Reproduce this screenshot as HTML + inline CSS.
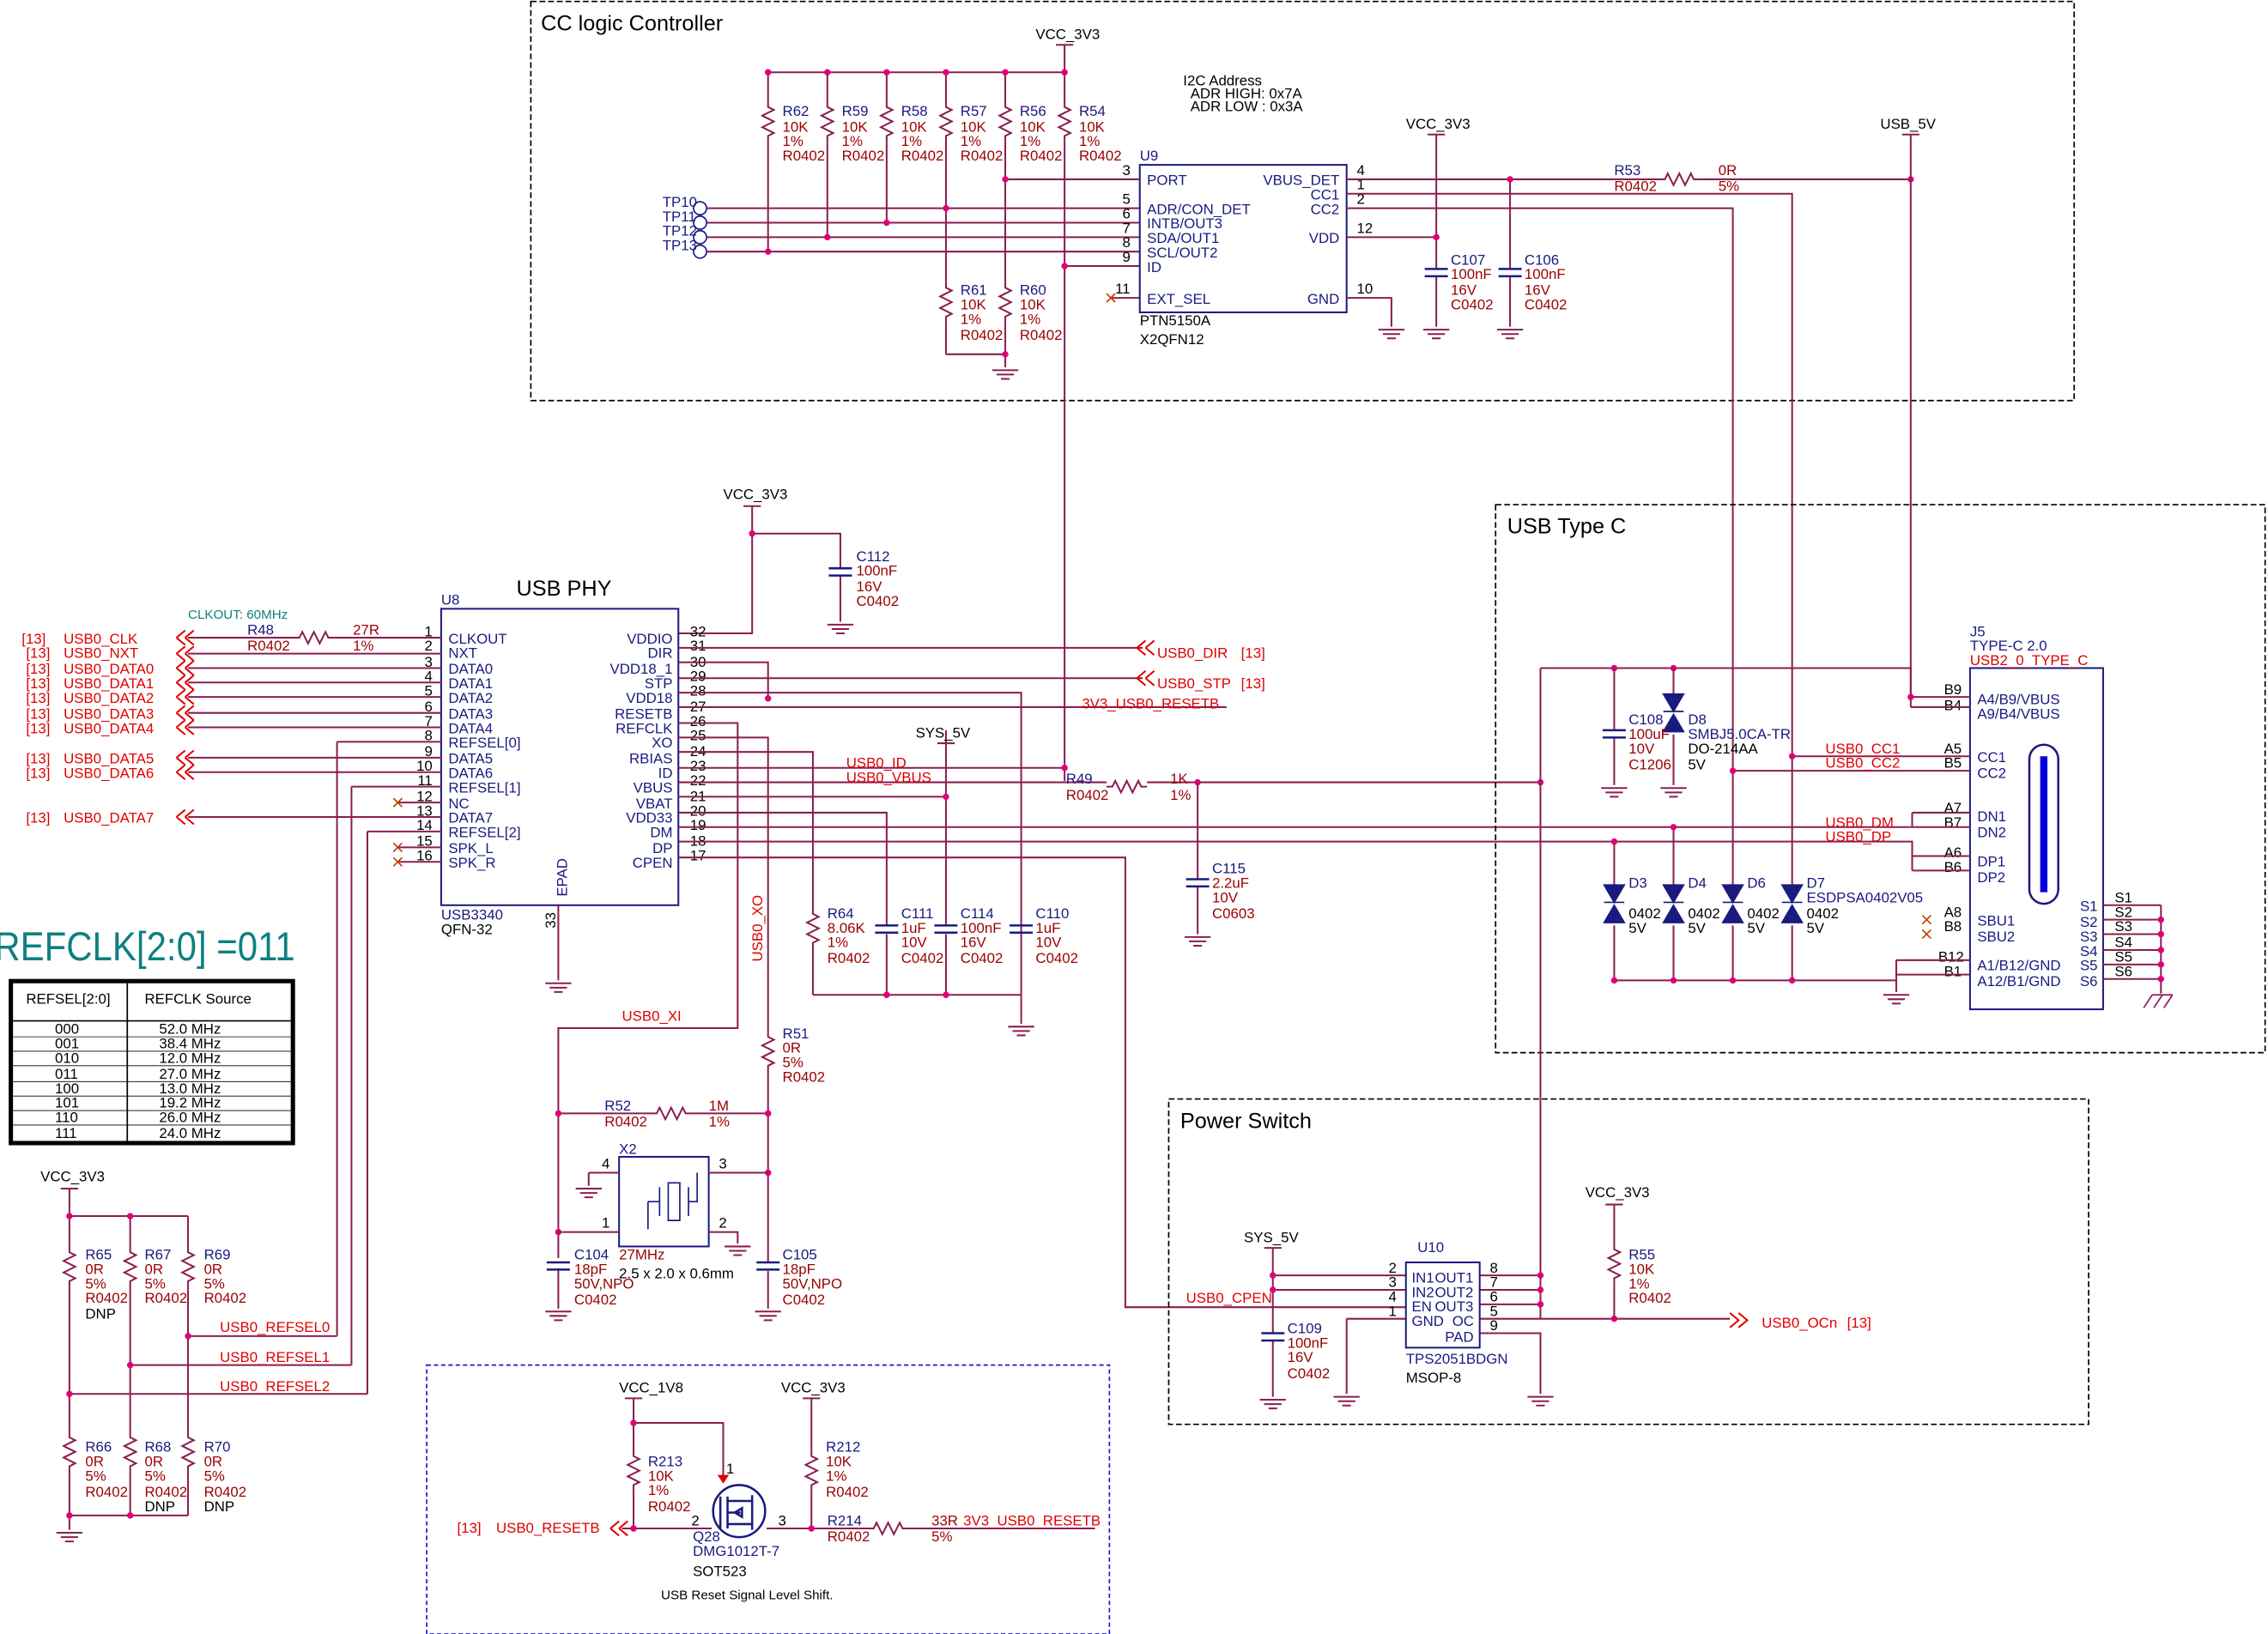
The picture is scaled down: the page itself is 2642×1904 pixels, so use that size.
<!DOCTYPE html>
<html><head><meta charset="utf-8"><style>
html,body{margin:0;padding:0;background:#fff;}
svg{display:block;}
text{font-family:"Liberation Sans",sans-serif;font-size:10px;}
.b{fill:#1a1a80}.r{fill:#e00000}.d{fill:#9b0000}.k{fill:#000}.t{fill:#0d8080}
.w{stroke:#8a1e50;stroke-width:1.2;fill:none}
.bx{stroke:#1a1a80;stroke-width:1.2;fill:none}
</style></head><body>
<svg width="2642" height="1904" viewBox="0 0 1568 1130" xmlns="http://www.w3.org/2000/svg">
<defs>
<path id="rv" d="M0,0v4l4,2l-8,4l8,4l-8,4l8,4l-4,2v4" class="w"/>
<path id="rh" d="M0,0h4l2,-4l4,8l4,-8l4,8l4,-8l2,4h4" class="w"/>
<path id="gnd" d="M-9,0h18M-6,3h12M-3,6h6" class="w"/>
<path id="cap" d="M-8,0h16M-8,5h16" stroke="#1a1a80" stroke-width="1.5"/>
<circle id="dt" r="2.2" fill="#e0007a"/>
<path id="chl" d="M0,0l-6,-5M0,0l-6,5M6,0l-6,-5M6,0l-6,5" stroke="#e00000" stroke-width="1.2" transform="scale(-1,1)"/>
<path id="chr" d="M0,-5l6,5l-6,5M6,-5l6,5l-6,5" stroke="#e00000" stroke-width="1.2" fill="none"/>
<path id="xm" d="M-3,-3l6,6M3,-3l-6,6" stroke="#c04000" stroke-width="1"/>
<path id="pw" d="M-6,0h12" stroke="#8a1e50" stroke-width="1.2"/>
<path id="tvs" d="M-7,-14h14l-7,12zM-7,12h14l-7,-12zM-7,-2h14" fill="#1a1a80" stroke="#1a1a80"/>
</defs>

<!-- ===== CC logic ===== -->
<rect x="367" y="1" width="1067" height="276" fill="none" stroke="#000" stroke-dasharray="4,2"/>
<text x="374" y="21" class="k" style="font-size:15px">CC logic Controller</text>
<text x="716" y="27" class="k">VCC_3V3</text>
<use href="#pw" x="736" y="31"/>
<path class="w" d="M736,31V50M531,50H736"/>
<g>
<path class="w" d="M531,50V70M531,98V174M572,50V70M572,98V164M613,50V70M613,98V154M654,50V70M654,98V195M654,223V245M695,50V70M695,98V195M695,223V245M736,50V70M736,98V540M654,245H695M695,245V254"/>
<use href="#rv" x="531" y="70"/><use href="#rv" x="572" y="70"/><use href="#rv" x="613" y="70"/><use href="#rv" x="654" y="70"/><use href="#rv" x="695" y="70"/><use href="#rv" x="736" y="70"/>
<use href="#rv" x="654" y="195"/><use href="#rv" x="695" y="195"/>
<use href="#gnd" x="695" y="256"/>
</g>
<g>
<text x="541" y="80" class="b">R62</text><text x="541" y="91" class="d">10K</text><text x="541" y="101" class="d">1%</text><text x="541" y="111" class="d">R0402</text>
<text x="582" y="80" class="b">R59</text><text x="582" y="91" class="d">10K</text><text x="582" y="101" class="d">1%</text><text x="582" y="111" class="d">R0402</text>
<text x="623" y="80" class="b">R58</text><text x="623" y="91" class="d">10K</text><text x="623" y="101" class="d">1%</text><text x="623" y="111" class="d">R0402</text>
<text x="664" y="80" class="b">R57</text><text x="664" y="91" class="d">10K</text><text x="664" y="101" class="d">1%</text><text x="664" y="111" class="d">R0402</text>
<text x="705" y="80" class="b">R56</text><text x="705" y="91" class="d">10K</text><text x="705" y="101" class="d">1%</text><text x="705" y="111" class="d">R0402</text>
<text x="746" y="80" class="b">R54</text><text x="746" y="91" class="d">10K</text><text x="746" y="101" class="d">1%</text><text x="746" y="111" class="d">R0402</text>
<text x="664" y="204" class="b">R61</text><text x="664" y="214" class="d">10K</text><text x="664" y="224" class="d">1%</text><text x="664" y="235" class="d">R0402</text>
<text x="705" y="204" class="b">R60</text><text x="705" y="214" class="d">10K</text><text x="705" y="224" class="d">1%</text><text x="705" y="235" class="d">R0402</text>
</g>
<!-- TPs -->
<g fill="none" stroke="#1a1a80">
<circle cx="484" cy="144" r="4.5"/><circle cx="484" cy="154" r="4.5"/><circle cx="484" cy="164" r="4.5"/><circle cx="484" cy="174" r="4.5"/>
</g>
<text x="458" y="143" class="b">TP10</text><text x="458" y="153" class="b">TP11</text><text x="458" y="163" class="b">TP12</text><text x="458" y="173" class="b">TP13</text>
<path class="w" d="M489,144H788M489,154H788M489,164H788M489,174H788M695,124H788M736,184H788M768,206H788"/>
<use href="#xm" x="768" y="206"/>
<use href="#dt" x="654" y="144"/><use href="#dt" x="613" y="154"/><use href="#dt" x="572" y="164"/><use href="#dt" x="531" y="174"/><use href="#dt" x="695" y="124"/><use href="#dt" x="736" y="184"/>
<use href="#dt" x="531" y="50"/><use href="#dt" x="572" y="50"/><use href="#dt" x="613" y="50"/><use href="#dt" x="654" y="50"/><use href="#dt" x="695" y="50"/><use href="#dt" x="736" y="50"/><use href="#dt" x="695" y="245"/>
<g class="k"><text x="776" y="121">3</text><text x="776" y="141">5</text><text x="776" y="151">6</text><text x="776" y="161">7</text><text x="776" y="171">8</text><text x="776" y="181">9</text><text x="771" y="203">11</text></g>
<rect x="788" y="114" width="143" height="102" class="bx"/>
<text x="788" y="111" class="b">U9</text>
<g class="b"><text x="793" y="128">PORT</text><text x="793" y="148">ADR/CON_DET</text><text x="793" y="158">INTB/OUT3</text><text x="793" y="168">SDA/OUT1</text><text x="793" y="178">SCL/OUT2</text><text x="793" y="188">ID</text><text x="793" y="210">EXT_SEL</text>
<text x="926" y="128" text-anchor="end">VBUS_DET</text><text x="926" y="138" text-anchor="end">CC1</text><text x="926" y="148" text-anchor="end">CC2</text><text x="926" y="168" text-anchor="end">VDD</text><text x="926" y="210" text-anchor="end">GND</text></g>
<text x="788" y="225" class="k">PTN5150A</text><text x="788" y="238" class="k">X2QFN12</text>
<g class="k" style="font-size:9px"><text x="818" y="59">I2C Address</text><text x="823" y="68">ADR HIGH: 0x7A</text><text x="823" y="77">ADR LOW : 0x3A</text></g>
<g class="k"><text x="938" y="121">4</text><text x="938" y="131">1</text><text x="938" y="141">2</text><text x="938" y="161">12</text><text x="938" y="203">10</text></g>
<path class="w" d="M931,124H1147M1175,124H1321M931,134H1239V612M931,144H1198V612M931,164H993M931,206H962V226"/>
<use href="#rh" x="1147" y="124"/>
<use href="#gnd" x="962" y="228"/>
<text x="1116" y="121" class="b">R53</text><text x="1116" y="132" class="d">R0402</text><text x="1188" y="121" class="d">0R</text><text x="1188" y="132" class="d">5%</text>
<text x="972" y="89" class="k">VCC_3V3</text><use href="#pw" x="993" y="93"/>
<path class="w" d="M993,93V186M993,191V226M1044,124V186M1044,191V226"/>
<use href="#cap" x="993" y="186"/><use href="#cap" x="1044" y="186"/>
<use href="#gnd" x="993" y="228"/><use href="#gnd" x="1044" y="228"/>
<use href="#dt" x="993" y="164"/><use href="#dt" x="1044" y="124"/><use href="#dt" x="1321" y="124"/>
<text x="1003" y="183" class="b">C107</text><text x="1003" y="193" class="d">100nF</text><text x="1003" y="204" class="d">16V</text><text x="1003" y="214" class="d">C0402</text>
<text x="1054" y="183" class="b">C106</text><text x="1054" y="193" class="d">100nF</text><text x="1054" y="204" class="d">16V</text><text x="1054" y="214" class="d">C0402</text>
<text x="1300" y="89" class="k">USB_5V</text><use href="#pw" x="1321" y="93"/>
<path class="w" d="M1321,93V489"/>

<!-- ===== USB PHY ===== -->
<text x="500" y="345" class="k">VCC_3V3</text><use href="#pw" x="520" y="350"/>
<path class="w" d="M520,350V438H469M520,369H581V393M581,398V430"/>
<use href="#dt" x="520" y="369"/>
<use href="#cap" x="581" y="393"/><use href="#gnd" x="581" y="432"/>
<text x="592" y="388" class="b">C112</text><text x="592" y="398" class="d">100nF</text><text x="592" y="409" class="d">16V</text><text x="592" y="419" class="d">C0402</text>
<rect x="305" y="421" width="164" height="205" class="bx"/>
<text x="305" y="418" class="b">U8</text>
<text x="357" y="412" class="k" style="font-size:15px">USB PHY</text>
<text x="305" y="636" class="b">USB3340</text><text x="305" y="646" class="k">QFN-32</text>
<text x="0" y="0" class="b" transform="translate(392,620) rotate(-90)">EPAD</text>
<text x="0" y="0" class="k" transform="translate(384,642) rotate(-90)">33</text>
<path class="w" d="M386,626V678"/><use href="#gnd" x="386" y="680"/>
<g class="b">
<text x="310" y="445">CLKOUT</text><text x="310" y="455">NXT</text><text x="310" y="466">DATA0</text><text x="310" y="476">DATA1</text><text x="310" y="486">DATA2</text><text x="310" y="497">DATA3</text><text x="310" y="507">DATA4</text><text x="310" y="517">REFSEL[0]</text><text x="310" y="528">DATA5</text><text x="310" y="538">DATA6</text><text x="310" y="548">REFSEL[1]</text><text x="310" y="559">NC</text><text x="310" y="569">DATA7</text><text x="310" y="579">REFSEL[2]</text><text x="310" y="590">SPK_L</text><text x="310" y="600">SPK_R</text>
</g>
<g class="b" text-anchor="end">
<text x="465" y="445">VDDIO</text><text x="465" y="455">DIR</text><text x="465" y="466">VDD18_1</text><text x="465" y="476">STP</text><text x="465" y="486">VDD18</text><text x="465" y="497">RESETB</text><text x="465" y="507">REFCLK</text><text x="465" y="517">XO</text><text x="465" y="528">RBIAS</text><text x="465" y="538">ID</text><text x="465" y="548">VBUS</text><text x="465" y="559">VBAT</text><text x="465" y="569">VDD33</text><text x="465" y="579">DM</text><text x="465" y="590">DP</text><text x="465" y="600">CPEN</text>
</g>
<g class="k" text-anchor="end">
<text x="299" y="440">1</text><text x="299" y="450">2</text><text x="299" y="461">3</text><text x="299" y="471">4</text><text x="299" y="481">5</text><text x="299" y="492">6</text><text x="299" y="502">7</text><text x="299" y="512">8</text><text x="299" y="523">9</text><text x="299" y="533">10</text><text x="299" y="543">11</text><text x="299" y="554">12</text><text x="299" y="564">13</text><text x="299" y="574">14</text><text x="299" y="585">15</text><text x="299" y="595">16</text>
</g>
<g class="k">
<text x="477" y="440">32</text><text x="477" y="450">31</text><text x="477" y="461">30</text><text x="477" y="471">29</text><text x="477" y="481">28</text><text x="477" y="492">27</text><text x="477" y="502">26</text><text x="477" y="512">25</text><text x="477" y="523">24</text><text x="477" y="533">23</text><text x="477" y="543">22</text><text x="477" y="554">21</text><text x="477" y="564">20</text><text x="477" y="574">19</text><text x="477" y="585">18</text><text x="477" y="595">17</text>
</g>
<!-- left wires -->
<path class="w" d="M130,441H203M231,441H305M130,452H305M130,462H305M130,472H305M130,482H305M130,493H305M130,503H305M233,513H305M130,524H305M130,534H305M243,544H305M275,555H305M130,565H305M254,575H305M275,586H305M275,596H305
M233,513V924M243,544V944M254,575V964"/>
<use href="#rh" x="203" y="441"/>
<use href="#xm" x="275" y="555"/><use href="#xm" x="275" y="586"/><use href="#xm" x="275" y="596"/>
<text x="130" y="428" class="t" style="font-size:9px">CLKOUT: 60MHz</text>
<text x="171" y="439" class="b">R48</text><text x="171" y="450" class="d">R0402</text><text x="244" y="439" class="d">27R</text><text x="244" y="450" class="d">1%</text>
<g>
<use href="#chl" x="128" y="441"/><use href="#chl" x="128" y="452"/><use href="#chl" x="128" y="462"/><use href="#chl" x="128" y="472"/><use href="#chl" x="128" y="482"/><use href="#chl" x="128" y="493"/><use href="#chl" x="128" y="503"/><use href="#chl" x="128" y="524"/><use href="#chl" x="128" y="534"/><use href="#chl" x="128" y="565"/>
</g>
<g class="r">
<text x="15" y="445">[13]</text><text x="44" y="445">USB0_CLK</text>
<text x="18" y="455">[13]</text><text x="44" y="455">USB0_NXT</text>
<text x="18" y="466">[13]</text><text x="44" y="466">USB0_DATA0</text>
<text x="18" y="476">[13]</text><text x="44" y="476">USB0_DATA1</text>
<text x="18" y="486">[13]</text><text x="44" y="486">USB0_DATA2</text>
<text x="18" y="497">[13]</text><text x="44" y="497">USB0_DATA3</text>
<text x="18" y="507">[13]</text><text x="44" y="507">USB0_DATA4</text>
<text x="18" y="528">[13]</text><text x="44" y="528">USB0_DATA5</text>
<text x="18" y="538">[13]</text><text x="44" y="538">USB0_DATA6</text>
<text x="18" y="569">[13]</text><text x="44" y="569">USB0_DATA7</text>
</g>
<!-- right wires -->
<path class="w" d="M469,448H790M469,458H531V483M469,469H790M469,479H706V688M469,489H848M469,500H510V711H386V870M386,877V905M469,510H531V713M531,741V873M531,879V905M469,520H562V628M562,656V688M469,531H736M469,541H765M793,541H1065M469,551H654M469,562H613V640M613,646V688M469,572H1320M469,582H1320M469,593H778V904H972M562,688H706M654,505V640M654,646V688M706,646V688M706,479V640"/>
<use href="#dt" x="531" y="483"/><use href="#dt" x="654" y="551"/><use href="#dt" x="654" y="688"/><use href="#dt" x="613" y="688"/><use href="#dt" x="736" y="531"/><use href="#dt" x="828" y="541"/><use href="#dt" x="1065" y="541"/>
<use href="#chl" x="792" y="448"/><use href="#chl" x="792" y="469"/>
<text x="800" y="455" class="r">USB0_DIR</text><text x="858" y="455" class="r">[13]</text>
<text x="800" y="476" class="r">USB0_STP</text><text x="858" y="476" class="r">[13]</text>
<text x="748" y="490" class="r">3V3_USB0_RESETB</text>
<text x="585" y="531" class="r">USB0_ID</text><text x="585" y="541" class="r">USB0_VBUS</text>
<use href="#rh" x="765" y="544"/>
<text x="737" y="542" class="b">R49</text><text x="737" y="553" class="d">R0402</text><text x="809" y="542" class="d">1K</text><text x="809" y="553" class="d">1%</text>
<path class="w" d="M828,541V608M828,613V646"/><use href="#cap" x="828" y="608"/><use href="#gnd" x="828" y="648"/>
<text x="838" y="604" class="b">C115</text><text x="838" y="614" class="d">2.2uF</text><text x="838" y="624" class="d">10V</text><text x="838" y="635" class="d">C0603</text>
<text x="633" y="510" class="k">SYS_5V</text><use href="#pw" x="654" y="514"/>
<use href="#rv" x="562" y="628"/>
<text x="572" y="635" class="b">R64</text><text x="572" y="645" class="d">8.06K</text><text x="572" y="655" class="d">1%</text><text x="572" y="666" class="d">R0402</text>
<use href="#cap" x="613" y="640"/><use href="#cap" x="654" y="640"/><use href="#cap" x="706" y="640"/>
<text x="623" y="635" class="b">C111</text><text x="623" y="645" class="d">1uF</text><text x="623" y="655" class="d">10V</text><text x="623" y="666" class="d">C0402</text>
<text x="664" y="635" class="b">C114</text><text x="664" y="645" class="d">100nF</text><text x="664" y="655" class="d">16V</text><text x="664" y="666" class="d">C0402</text>
<text x="716" y="635" class="b">C110</text><text x="716" y="645" class="d">1uF</text><text x="716" y="655" class="d">10V</text><text x="716" y="666" class="d">C0402</text>
<use href="#gnd" x="706" y="710"/><path class="w" d="M706,688V708"/>
<text x="0" y="0" class="r" transform="translate(527,665) rotate(-90)">USB0_XO</text>
<text x="430" y="706" class="r">USB0_XI</text>
<use href="#rv" x="531" y="713"/>
<text x="541" y="718" class="b">R51</text><text x="541" y="728" class="d">0R</text><text x="541" y="738" class="d">5%</text><text x="541" y="748" class="d">R0402</text>
<path class="w" d="M386,770H450M478,770H531"/><use href="#rh" x="450" y="770"/>
<use href="#dt" x="386" y="770"/><use href="#dt" x="531" y="770"/><use href="#dt" x="386" y="852"/><use href="#dt" x="531" y="811"/>
<text x="418" y="768" class="b">R52</text><text x="418" y="779" class="d">R0402</text><text x="490" y="768" class="d">1M</text><text x="490" y="779" class="d">1%</text>
<rect x="428" y="800" width="62" height="62" class="bx"/>
<text x="428" y="798" class="b">X2</text>
<path d="M448,831H456M456,821V841M462,818H470V844H462ZM476,821V841M476,831H482V811M448,831V850" stroke="#1a1a80" fill="none"/>
<path class="w" d="M407,811H428M407,811V820M490,811H531M386,852H428M490,852H510V860"/>
<use href="#gnd" x="407" y="822"/><use href="#gnd" x="510" y="862"/>
<text x="416" y="808" class="k">4</text><text x="497" y="808" class="k">3</text><text x="416" y="849" class="k">1</text><text x="497" y="849" class="k">2</text>
<text x="428" y="871" class="d">27MHz</text><text x="428" y="884" class="k">2.5 x 2.0 x 0.6mm</text>
<use href="#cap" x="386" y="873"/><use href="#cap" x="531" y="873"/>
<use href="#gnd" x="386" y="907"/><use href="#gnd" x="531" y="907"/>
<text x="397" y="871" class="b">C104</text><text x="397" y="881" class="d">18pF</text><text x="397" y="891" class="d">50V,NPO</text><text x="397" y="902" class="d">C0402</text>
<text x="541" y="871" class="b">C105</text><text x="541" y="881" class="d">18pF</text><text x="541" y="891" class="d">50V,NPO</text><text x="541" y="902" class="d">C0402</text>

<!-- REFCLK table -->
<text x="-4" y="664" class="t" style="font-size:28px" textLength="208" lengthAdjust="spacingAndGlyphs">REFCLK[2:0] =011</text>
<rect x="7.5" y="678.5" width="195" height="112" fill="none" stroke="#000" stroke-width="3"/>
<path d="M88,680V790M9,706H201" stroke="#000" stroke-width="1"/>
<g stroke="#000" stroke-width="0.5"><path d="M9,717H201M9,727H201M9,737H201M9,748H201M9,758H201M9,768H201M9,778H201"/></g>
<g class="k" style="font-size:9px">
<text x="18" y="694">REFSEL[2:0]</text><text x="100" y="694">REFCLK Source</text>
<text x="38" y="715">000</text><text x="110" y="715">52.0 MHz</text>
<text x="38" y="725">001</text><text x="110" y="725">38.4 MHz</text>
<text x="38" y="735">010</text><text x="110" y="735">12.0 MHz</text>
<text x="38" y="746">011</text><text x="110" y="746">27.0 MHz</text>
<text x="38" y="756">100</text><text x="110" y="756">13.0 MHz</text>
<text x="38" y="766">101</text><text x="110" y="766">19.2 MHz</text>
<text x="38" y="776">110</text><text x="110" y="776">26.0 MHz</text>
<text x="38" y="787">111</text><text x="110" y="787">24.0 MHz</text>
</g>
<!-- REFSEL resistors -->
<text x="28" y="817" class="k">VCC_3V3</text><use href="#pw" x="48" y="822"/>
<path class="w" d="M48,822V862M48,890V990M48,1018V1058M90,841V862M90,890V990M90,1018V1048M130,841V862M130,890V990M130,1018V1048M48,841H130M48,1048H130M130,924H233M90,944H243M48,964H254"/>
<use href="#rv" x="48" y="862"/><use href="#rv" x="90" y="862"/><use href="#rv" x="130" y="862"/>
<use href="#rv" x="48" y="990"/><use href="#rv" x="90" y="990"/><use href="#rv" x="130" y="990"/>
<use href="#gnd" x="48" y="1060"/>
<use href="#dt" x="48" y="841"/><use href="#dt" x="90" y="841"/><use href="#dt" x="130" y="924"/><use href="#dt" x="90" y="944"/><use href="#dt" x="48" y="964"/><use href="#dt" x="48" y="1048"/><use href="#dt" x="90" y="1048"/>
<text x="152" y="921" class="r">USB0_REFSEL0</text><text x="152" y="942" class="r">USB0_REFSEL1</text><text x="152" y="962" class="r">USB0_REFSEL2</text>
<g>
<text x="59" y="871" class="b">R65</text><text x="59" y="881" class="d">0R</text><text x="59" y="891" class="d">5%</text><text x="59" y="901" class="d">R0402</text><text x="59" y="912" class="k">DNP</text>
<text x="100" y="871" class="b">R67</text><text x="100" y="881" class="d">0R</text><text x="100" y="891" class="d">5%</text><text x="100" y="901" class="d">R0402</text>
<text x="141" y="871" class="b">R69</text><text x="141" y="881" class="d">0R</text><text x="141" y="891" class="d">5%</text><text x="141" y="901" class="d">R0402</text>
<text x="59" y="1004" class="b">R66</text><text x="59" y="1014" class="d">0R</text><text x="59" y="1024" class="d">5%</text><text x="59" y="1035" class="d">R0402</text>
<text x="100" y="1004" class="b">R68</text><text x="100" y="1014" class="d">0R</text><text x="100" y="1024" class="d">5%</text><text x="100" y="1035" class="d">R0402</text><text x="100" y="1045" class="k">DNP</text>
<text x="141" y="1004" class="b">R70</text><text x="141" y="1014" class="d">0R</text><text x="141" y="1024" class="d">5%</text><text x="141" y="1035" class="d">R0402</text><text x="141" y="1045" class="k">DNP</text>
</g>

<!-- ===== USB Type C ===== -->
<rect x="1034" y="349" width="532" height="379" fill="none" stroke="#000" stroke-dasharray="4,2"/>
<text x="1042" y="369" class="k" style="font-size:15px">USB Type C</text>
<rect x="1362" y="462" width="92" height="236" class="bx"/>
<text x="1362" y="440" class="b">J5</text><text x="1362" y="450" class="b">TYPE-C 2.0</text><text x="1362" y="460" class="r">USB2_0_TYPE_C</text>
<rect x="1403" y="515" width="20" height="110" rx="10" fill="none" stroke="#1a1a80" stroke-width="1.5"/>
<path d="M1413,523V617" stroke="#0000e0" stroke-width="5"/>
<g class="b">
<text x="1367" y="487">A4/B9/VBUS</text><text x="1367" y="497">A9/B4/VBUS</text>
<text x="1367" y="527">CC1</text><text x="1367" y="538">CC2</text>
<text x="1367" y="568">DN1</text><text x="1367" y="579">DN2</text><text x="1367" y="599">DP1</text><text x="1367" y="610">DP2</text>
<text x="1367" y="640">SBU1</text><text x="1367" y="651">SBU2</text>
<text x="1367" y="671">A1/B12/GND</text><text x="1367" y="682">A12/B1/GND</text>
<text x="1438" y="630">S1</text><text x="1438" y="641">S2</text><text x="1438" y="651">S3</text><text x="1438" y="661">S4</text><text x="1438" y="671">S5</text><text x="1438" y="682">S6</text>
</g>
<g class="k">
<text x="1344" y="480">B9</text><text x="1344" y="491">B4</text><text x="1344" y="521">A5</text><text x="1344" y="531">B5</text><text x="1344" y="562">A7</text><text x="1344" y="572">B7</text><text x="1344" y="593">A6</text><text x="1344" y="603">B6</text><text x="1344" y="634">A8</text><text x="1344" y="644">B8</text><text x="1340" y="665">B12</text><text x="1344" y="675">B1</text>
<text x="1462" y="624">S1</text><text x="1462" y="634">S2</text><text x="1462" y="644">S3</text><text x="1462" y="655">S4</text><text x="1462" y="665">S5</text><text x="1462" y="675">S6</text>
</g>
<path class="w" d="M1321,482H1362M1321,489H1362M1239,523H1362M1198,533H1362M1322,562H1362M1322,572H1362M1322,592H1362M1322,602H1362M1322,562V572M1320,572H1322M1320,582H1322V602M1311,664H1362M1311,674H1362M1311,664V686M1454,626H1494M1454,636H1494M1454,646H1494M1454,657H1494M1454,667H1494M1454,677H1494M1494,626V687M1065,462H1321V482M1065,462V912"/>
<use href="#xm" x="1332" y="636"/><use href="#xm" x="1332" y="646"/>
<path d="M1488,688h14M1488,688l-6,9M1495,688l-6,9M1502,688l-6,9" stroke="#8a1e50" fill="none"/>
<use href="#gnd" x="1311" y="688"/>
<use href="#dt" x="1116" y="462"/><use href="#dt" x="1157" y="462"/><use href="#dt" x="1321" y="482"/><use href="#dt" x="1239" y="523"/><use href="#dt" x="1198" y="533"/><use href="#dt" x="1494" y="636"/><use href="#dt" x="1494" y="646"/><use href="#dt" x="1494" y="657"/><use href="#dt" x="1494" y="667"/><use href="#dt" x="1494" y="677"/>
<text x="1262" y="521" class="r">USB0_CC1</text><text x="1262" y="531" class="r">USB0_CC2</text>
<text x="1262" y="572" class="r">USB0_DM</text><text x="1262" y="582" class="r">USB0_DP</text>
<path class="w" d="M1116,462V505M1116,510V543M1157,462V480M1157,508V543"/>
<use href="#cap" x="1116" y="505"/><use href="#gnd" x="1116" y="545"/><use href="#gnd" x="1157" y="545"/>
<use href="#tvs" x="1157" y="494"/>
<text x="1126" y="501" class="b">C108</text><text x="1126" y="511" class="d">100uF</text><text x="1126" y="521" class="d">10V</text><text x="1126" y="532" class="d">C1206</text>
<text x="1167" y="501" class="b">D8</text><text x="1167" y="511" class="b">SMBJ5.0CA-TR</text><text x="1167" y="521" class="k">DO-214AA</text><text x="1167" y="532" class="k">5V</text>
<path class="w" d="M1116,582V612M1116,640V678M1157,572V612M1157,640V678M1198,640V678M1239,640V678M1116,678H1311"/>
<use href="#dt" x="1116" y="582"/><use href="#dt" x="1157" y="572"/><use href="#dt" x="1116" y="678"/><use href="#dt" x="1157" y="678"/><use href="#dt" x="1198" y="678"/><use href="#dt" x="1239" y="678"/>
<use href="#tvs" x="1116" y="626"/><use href="#tvs" x="1157" y="626"/><use href="#tvs" x="1198" y="626"/><use href="#tvs" x="1239" y="626"/>
<g>
<text x="1126" y="614" class="b">D3</text><text x="1126" y="635" class="k">0402</text><text x="1126" y="645" class="k">5V</text>
<text x="1167" y="614" class="b">D4</text><text x="1167" y="635" class="k">0402</text><text x="1167" y="645" class="k">5V</text>
<text x="1208" y="614" class="b">D6</text><text x="1208" y="635" class="k">0402</text><text x="1208" y="645" class="k">5V</text>
<text x="1249" y="614" class="b">D7</text><text x="1249" y="624" class="b">ESDPSA0402V05</text><text x="1249" y="635" class="k">0402</text><text x="1249" y="645" class="k">5V</text>
</g>

<!-- ===== Power Switch ===== -->
<rect x="808" y="760" width="636" height="225" fill="none" stroke="#000" stroke-dasharray="4,2"/>
<text x="816" y="780" class="k" style="font-size:15px">Power Switch</text>
<text x="820" y="901" class="r">USB0_CPEN</text>
<text x="860" y="859" class="k">SYS_5V</text><use href="#pw" x="880" y="863"/>
<path class="w" d="M880,863V922M880,927V966M880,882H972M880,892H972M931,912H972M931,912V964M1023,882H1065M1023,892H1065M1023,902H1065M1023,912H1196M1023,922H1065V964"/>
<use href="#cap" x="880" y="922"/><use href="#gnd" x="880" y="968"/><use href="#gnd" x="931" y="966"/><use href="#gnd" x="1065" y="966"/>
<use href="#dt" x="880" y="882"/><use href="#dt" x="880" y="892"/><use href="#dt" x="1065" y="882"/><use href="#dt" x="1065" y="892"/><use href="#dt" x="1065" y="902"/><use href="#dt" x="1116" y="912"/>
<text x="890" y="922" class="b">C109</text><text x="890" y="932" class="d">100nF</text><text x="890" y="942" class="d">16V</text><text x="890" y="953" class="d">C0402</text>
<rect x="972" y="873" width="51" height="59" class="bx"/>
<text x="980" y="866" class="b">U10</text>
<g class="b" style="font-size:9.5px"><text x="976" y="887">IN1</text><text x="992" y="887">OUT1</text><text x="976" y="897">IN2</text><text x="992" y="897">OUT2</text><text x="976" y="907">EN</text><text x="992" y="907">OUT3</text><text x="976" y="917">GND</text><text x="1004" y="917">OC</text><text x="999" y="928">PAD</text></g>
<g class="k"><text x="960" y="880">2</text><text x="960" y="890">3</text><text x="960" y="900">4</text><text x="960" y="910">1</text><text x="1030" y="880">8</text><text x="1030" y="890">7</text><text x="1030" y="900">6</text><text x="1030" y="910">5</text><text x="1030" y="920">9</text></g>
<text x="972" y="943" class="b">TPS2051BDGN</text><text x="972" y="956" class="k">MSOP-8</text>
<text x="1096" y="828" class="k">VCC_3V3</text><use href="#pw" x="1116" y="833"/>
<path class="w" d="M1116,833V860M1116,888V912"/><use href="#rv" x="1116" y="860"/>
<text x="1126" y="871" class="b">R55</text><text x="1126" y="881" class="d">10K</text><text x="1126" y="891" class="d">1%</text><text x="1126" y="901" class="d">R0402</text>
<use href="#chr" x="1196" y="913"/>
<text x="1218" y="918" class="r">USB0_OCn</text><text x="1277" y="918" class="r">[13]</text>

<!-- ===== Level shift ===== -->
<rect x="295" y="944" width="472" height="186" fill="none" stroke="#1a1acc" stroke-dasharray="3,2"/>
<text x="428" y="963" class="k">VCC_1V8</text><use href="#pw" x="438" y="967"/>
<text x="540" y="963" class="k">VCC_3V3</text><use href="#pw" x="561" y="967"/>
<path class="w" d="M438,967V1003M438,1031V1057M438,984H500V1024M430,1057H492M530,1057H600M628,1057H757M561,967V1003M561,1031V1057"/>
<use href="#rv" x="438" y="1003"/><use href="#rv" x="561" y="1003"/><use href="#rh" x="600" y="1057"/>
<use href="#dt" x="438" y="984"/><use href="#dt" x="438" y="1057"/><use href="#dt" x="561" y="1057"/>
<path d="M496,1020l4,6l4,-6z" fill="#e00000"/>
<circle cx="511" cy="1045" r="18" fill="none" stroke="#1a1a80" stroke-width="1.5"/>
<path d="M498,1035V1057M503,1035V1057M503,1038H520V1034M503,1046H512M503,1054H520V1058M520,1038V1054M508,1046l5,-3v6z" stroke="#1a1a80" stroke-width="1.5" fill="none"/>
<text x="502" y="1019" class="k">1</text><text x="478" y="1055" class="k">2</text><text x="538" y="1055" class="k">3</text>
<use href="#chl" x="428" y="1057"/>
<text x="316" y="1060" class="r">[13]</text><text x="343" y="1060" class="r">USB0_RESETB</text>
<text x="448" y="1014" class="b">R213</text><text x="448" y="1024" class="d">10K</text><text x="448" y="1034" class="d">1%</text><text x="448" y="1045" class="d">R0402</text>
<text x="571" y="1004" class="b">R212</text><text x="571" y="1014" class="d">10K</text><text x="571" y="1024" class="d">1%</text><text x="571" y="1035" class="d">R0402</text>
<text x="572" y="1055" class="b">R214</text><text x="572" y="1066" class="d">R0402</text><text x="644" y="1055" class="d">33R</text><text x="644" y="1066" class="d">5%</text>
<text x="666" y="1055" class="r">3V3_USB0_RESETB</text>
<text x="479" y="1066" class="b">Q28</text><text x="479" y="1076" class="b">DMG1012T-7</text><text x="479" y="1090" class="k">SOT523</text>
<text x="457" y="1106" class="k" style="font-size:9px">USB Reset Signal Level Shift.</text>
</svg>
</body></html>
